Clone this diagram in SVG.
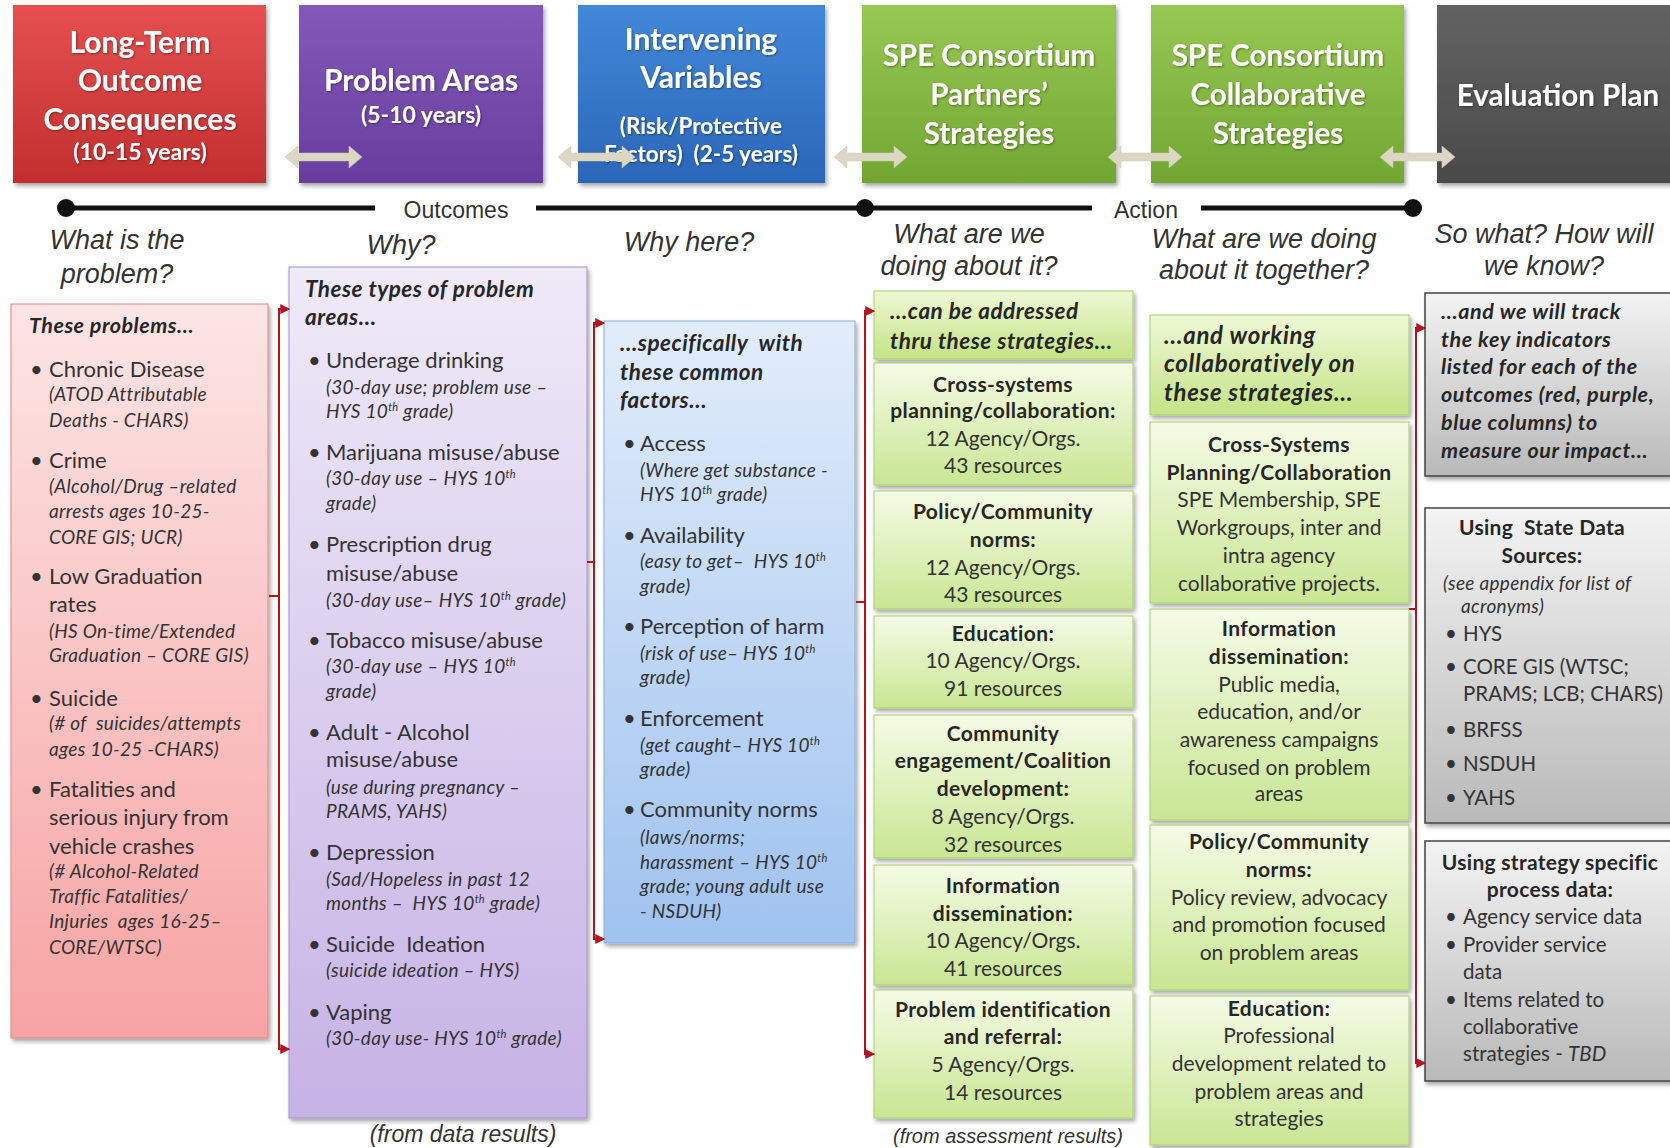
<svg xmlns="http://www.w3.org/2000/svg" width="1670" height="1148" viewBox="0 0 1670 1148">
<defs>
<linearGradient id="gRed" x1="0" y1="0" x2="0" y2="1"><stop offset="0" stop-color="#e6504f"/><stop offset="1" stop-color="#c22e2f"/></linearGradient>
<linearGradient id="gPur" x1="0" y1="0" x2="0" y2="1"><stop offset="0" stop-color="#8259b9"/><stop offset="1" stop-color="#683d9e"/></linearGradient>
<linearGradient id="gBlu" x1="0" y1="0" x2="0" y2="1"><stop offset="0" stop-color="#4288d8"/><stop offset="1" stop-color="#2b66b8"/></linearGradient>
<linearGradient id="gGrn" x1="0" y1="0" x2="0" y2="1"><stop offset="0" stop-color="#97c853"/><stop offset="1" stop-color="#72a632"/></linearGradient>
<linearGradient id="gGry" x1="0" y1="0" x2="0" y2="1"><stop offset="0" stop-color="#626262"/><stop offset="1" stop-color="#4a4a4a"/></linearGradient>
<linearGradient id="gPink" x1="0" y1="0" x2="0" y2="1"><stop offset="0" stop-color="#fde5e5"/><stop offset="1" stop-color="#f7a3a3"/></linearGradient>
<linearGradient id="gLav" x1="0" y1="0" x2="0" y2="1"><stop offset="0" stop-color="#efeaf8"/><stop offset="1" stop-color="#c6b2e5"/></linearGradient>
<linearGradient id="gSky" x1="0" y1="0" x2="0" y2="1"><stop offset="0" stop-color="#e2edfb"/><stop offset="1" stop-color="#9fc2ef"/></linearGradient>
<linearGradient id="gLime" x1="0" y1="0" x2="0" y2="1"><stop offset="0" stop-color="#f5fbe6"/><stop offset="1" stop-color="#c9e694"/></linearGradient>
<linearGradient id="gLimeH" x1="0" y1="0" x2="0" y2="1"><stop offset="0" stop-color="#eef8d6"/><stop offset="1" stop-color="#c4e386"/></linearGradient>
<linearGradient id="gSilv" x1="0" y1="0" x2="0" y2="1"><stop offset="0" stop-color="#f3f3f3"/><stop offset="1" stop-color="#b9b9b9"/></linearGradient>
<filter id="sh" x="-10%" y="-10%" width="130%" height="130%"><feDropShadow dx="2" dy="3" stdDeviation="2" flood-color="#000" flood-opacity="0.35"/></filter>
<filter id="tsh" x="-10%" y="-20%" width="130%" height="150%"><feDropShadow dx="1" dy="1" stdDeviation="1" flood-color="#000" flood-opacity="0.4"/></filter>
<marker id="tip" viewBox="0 0 8 8" refX="7" refY="4" markerWidth="5" markerHeight="5" orient="auto-start-reverse"><path d="M0,0 L8,4 L0,8 z" fill="#b3141e"/></marker>
<style>
.ttl{font-family:Lato,"Open Sans",sans-serif;font-weight:700;fill:#fff;text-anchor:middle}
.q{font-family:"Liberation Sans",Arial,sans-serif;font-style:italic;font-size:27px;fill:#333;text-anchor:middle}
.tl{font-family:"Liberation Sans",Arial,sans-serif;font-size:23px;fill:#333;text-anchor:middle}
.hd{font-family:Lato,sans-serif;font-weight:700;font-style:italic;font-size:22.5px;letter-spacing:0.5px;fill:#262626}
.b{font-family:Lato,sans-serif;font-size:22px;fill:#333}
.s{font-family:Lato,sans-serif;font-style:italic;font-size:19px;letter-spacing:0.3px;fill:#333}
.gb{font-family:Lato,sans-serif;font-weight:700;font-size:21px;letter-spacing:0.4px;fill:#262626;text-anchor:middle}
.gn{font-family:Lato,sans-serif;font-size:21px;fill:#333;text-anchor:middle}
.gr{font-family:Lato,sans-serif;font-size:20.5px;fill:#333}
.gbc{font-family:Lato,sans-serif;font-weight:700;font-size:21px;letter-spacing:0.3px;fill:#262626;text-anchor:middle}
.hdg{font-family:Lato,sans-serif;font-weight:700;font-style:italic;font-size:21.5px;letter-spacing:0.6px;fill:#262626}
.ft{font-family:"Liberation Sans",Arial,sans-serif;font-style:italic;fill:#333;text-anchor:middle}
.brk{fill:none;stroke:#b5121b;stroke-width:2}
.arw{fill:#dcd7c3;stroke:#cfc9b2;stroke-width:0.5}
</style>
</defs>
<rect width="1670" height="1148" fill="#ffffff"/>

<!-- Header boxes -->
<g id="hdr-longterm">
<rect x="13" y="5" width="253" height="178" fill="url(#gRed)" filter="url(#sh)"/>
<g filter="url(#tsh)">
<text class="ttl" x="140" y="53" font-size="30">Long-Term</text>
<text class="ttl" x="140" y="91" font-size="30">Outcome</text>
<text class="ttl" x="140" y="130" font-size="30">Consequences</text>
<text class="ttl" x="140" y="160" font-size="23">(10-15 years)</text>
</g>
</g>
<g id="hdr-problem">
<rect x="299" y="5" width="244" height="178" fill="url(#gPur)" filter="url(#sh)"/>
<g filter="url(#tsh)">
<text class="ttl" x="421" y="91" font-size="30">Problem Areas</text>
<text class="ttl" x="421" y="123" font-size="23">(5-10 years)</text>
</g>
</g>
<g id="hdr-intervening">
<rect x="578" y="5" width="247" height="178" fill="url(#gBlu)" filter="url(#sh)"/>
<g filter="url(#tsh)">
<text class="ttl" x="701" y="50" font-size="30">Intervening</text>
<text class="ttl" x="701" y="88" font-size="30">Variables</text>
<text class="ttl" x="701" y="134" font-size="22.5">(Risk/Protective</text>
<text class="ttl" x="701" y="162" font-size="22.5">Factors)&#160; (2-5 years)</text>
</g>
</g>
<g id="hdr-partners">
<rect x="862" y="5" width="254" height="178" fill="url(#gGrn)" filter="url(#sh)"/>
<g filter="url(#tsh)">
<text class="ttl" x="989" y="66" font-size="29.5">SPE Consortium</text>
<text class="ttl" x="989" y="105" font-size="29.5">Partners’</text>
<text class="ttl" x="989" y="144" font-size="29.5">Strategies</text>
</g>
</g>
<g id="hdr-collab">
<rect x="1151" y="5" width="253" height="178" fill="url(#gGrn)" filter="url(#sh)"/>
<g filter="url(#tsh)">
<text class="ttl" x="1278" y="66" font-size="29.5">SPE Consortium</text>
<text class="ttl" x="1278" y="105" font-size="29.5">Collaborative</text>
<text class="ttl" x="1278" y="144" font-size="29.5">Strategies</text>
</g>
</g>
<g id="hdr-eval">
<rect x="1437" y="5" width="240" height="178" fill="url(#gGry)" filter="url(#sh)"/>
<g filter="url(#tsh)">
<text class="ttl" x="1558" y="106" font-size="29.5">Evaluation Plan</text>
</g>
</g>

<!-- Timeline -->
<g id="timeline">
<path d="M66,208 L375,208 M536,208 L1092,208 M1201,208 L1413,208" stroke="#111" stroke-width="5" fill="none"/>
<circle cx="66" cy="208" r="9" fill="#111"/>
<circle cx="865" cy="208" r="9" fill="#111"/>
<circle cx="1413" cy="208" r="9" fill="#111"/>
<text class="tl" x="456" y="218">Outcomes</text>
<text class="tl" x="1146" y="218">Action</text>
</g>

<!-- Questions -->
<g id="questions">
<text class="q" x="117" y="249">What is the</text>
<text class="q" x="117" y="283">problem?</text>
<text class="q" x="401" y="254">Why?</text>
<text class="q" x="689" y="251">Why here?</text>
<text class="q" x="969" y="243">What are we</text>
<text class="q" x="969" y="275">doing about it?</text>
<text class="q" x="1264" y="248">What are we doing</text>
<text class="q" x="1264" y="279">about it together?</text>
<text class="q" x="1544" y="243">So what? How will</text>
<text class="q" x="1544" y="275">we know?</text>
</g>

<!-- Red column -->
<g id="col-problems">
<rect x="11" y="304" width="257" height="734" fill="url(#gPink)" stroke="#d98a8a" filter="url(#sh)"/>
<text class="hd" x="29" y="333" style="font-size:21.5px">These problems…</text>
<g class="b">
<text x="30" y="377">•</text><text x="49" y="377">Chronic Disease</text>
<text x="30" y="468">•</text><text x="49" y="468">Crime</text>
<text x="30" y="584">•</text><text x="49" y="584">Low Graduation</text>
<text x="49" y="612">rates</text>
<text x="30" y="706">•</text><text x="49" y="706">Suicide</text>
<text x="30" y="797">•</text><text x="49" y="797">Fatalities and</text>
<text x="49" y="825">serious injury from</text>
<text x="49" y="854">vehicle crashes</text>
</g>
<g class="s">
<text x="49" y="401">(ATOD Attributable</text>
<text x="49" y="427">Deaths - CHARS)</text>
<text x="49" y="493">(Alcohol/Drug –related</text>
<text x="49" y="518">arrests ages 10-25-</text>
<text x="49" y="544">CORE GIS; UCR)</text>
<text x="49" y="638">(HS On-time/Extended</text>
<text x="49" y="662">Graduation – CORE GIS)</text>
<text x="49" y="730">(# of&#160; suicides/attempts</text>
<text x="49" y="756">ages 10-25 -CHARS)</text>
<text x="49" y="878">(# Alcohol-Related</text>
<text x="49" y="903">Traffic Fatalities/</text>
<text x="49" y="928">Injuries&#160; ages 16-25–</text>
<text x="49" y="954">CORE/WTSC)</text>
</g>
</g>

<!-- Purple column -->
<g id="col-areas">
<rect x="289" y="267" width="298" height="851" fill="url(#gLav)" stroke="#a690cf" filter="url(#sh)"/>
<text class="hd" x="305" y="297">These types of problem</text>
<text class="hd" x="305" y="325">areas…</text>
<g class="b">
<text x="308" y="368">•</text><text x="326" y="368">Underage drinking</text>
<text x="308" y="460">•</text><text x="326" y="460">Marijuana misuse/abuse</text>
<text x="308" y="552">•</text><text x="326" y="552">Prescription drug</text>
<text x="326" y="581">misuse/abuse</text>
<text x="308" y="648">•</text><text x="326" y="648">Tobacco misuse/abuse</text>
<text x="308" y="740">•</text><text x="326" y="740">Adult - Alcohol</text>
<text x="326" y="767">misuse/abuse</text>
<text x="308" y="860">•</text><text x="326" y="860">Depression</text>
<text x="308" y="952">•</text><text x="326" y="952">Suicide&#160; Ideation</text>
<text x="308" y="1020">•</text><text x="326" y="1020">Vaping</text>
</g>
<g class="s">
<text x="326" y="394">(30-day use; problem use –</text>
<text x="326" y="418">HYS 10<tspan font-size="11" dy="-7">th</tspan><tspan dy="7"> grade)</tspan></text>
<text x="326" y="485">(30-day use – HYS 10<tspan font-size="11" dy="-7">th</tspan></text>
<text x="326" y="510">grade)</text>
<text x="326" y="607">(30-day use– HYS 10<tspan font-size="11" dy="-7">th</tspan><tspan dy="7"> grade)</tspan></text>
<text x="326" y="673">(30-day use – HYS 10<tspan font-size="11" dy="-7">th</tspan></text>
<text x="326" y="698">grade)</text>
<text x="326" y="794">(use during pregnancy –</text>
<text x="326" y="818">PRAMS, YAHS)</text>
<text x="326" y="886">(Sad/Hopeless in past 12</text>
<text x="326" y="910">months –&#160; HYS 10<tspan font-size="11" dy="-7">th</tspan><tspan dy="7"> grade)</tspan></text>
<text x="326" y="977">(suicide ideation – HYS)</text>
<text x="326" y="1045">(30-day use- HYS 10<tspan font-size="11" dy="-7">th</tspan><tspan dy="7"> grade)</tspan></text>
</g>
<text class="ft" x="463" y="1142" font-size="23">(from data results)</text>
</g>

<!-- Blue column -->
<g id="col-factors">
<rect x="604" y="321" width="251" height="622" fill="url(#gSky)" stroke="#8cb0de" filter="url(#sh)"/>
<text class="hd" x="620" y="351">…specifically&#160; with</text>
<text class="hd" x="620" y="380">these common</text>
<text class="hd" x="620" y="408">factors…</text>
<g class="b">
<text x="623" y="451">•</text><text x="640" y="451">Access</text>
<text x="623" y="543">•</text><text x="640" y="543">Availability</text>
<text x="623" y="634">•</text><text x="640" y="634">Perception of harm</text>
<text x="623" y="726">•</text><text x="640" y="726">Enforcement</text>
<text x="623" y="817">•</text><text x="640" y="817">Community norms</text>
</g>
<g class="s">
<text x="640" y="477">(Where get substance -</text>
<text x="640" y="501">HYS 10<tspan font-size="11" dy="-7">th</tspan><tspan dy="7"> grade)</tspan></text>
<text x="640" y="568">(easy to get–&#160; HYS 10<tspan font-size="11" dy="-7">th</tspan></text>
<text x="640" y="593">grade)</text>
<text x="640" y="660">(risk of use– HYS 10<tspan font-size="11" dy="-7">th</tspan></text>
<text x="640" y="684">grade)</text>
<text x="640" y="752">(get caught– HYS 10<tspan font-size="11" dy="-7">th</tspan></text>
<text x="640" y="776">grade)</text>
<text x="640" y="844">(laws/norms;</text>
<text x="640" y="869">harassment – HYS 10<tspan font-size="11" dy="-7">th</tspan></text>
<text x="640" y="893">grade; young adult use</text>
<text x="640" y="918">- NSDUH)</text>
</g>
</g>

<!-- Green column 1 -->
<g id="col-partners">
<g id="p-head">
<rect x="874" y="291" width="259" height="68" fill="url(#gLimeH)" stroke="#a9cf6a" filter="url(#sh)"/>
<text class="hd" x="890" y="319">…can be addressed</text>
<text class="hd" x="890" y="349">thru these strategies…</text>
</g>
<g id="p-cross">
<rect x="874" y="363" width="259" height="122" fill="url(#gLime)" stroke="#a9cf6a" filter="url(#sh)"/>
<text class="gb" x="1003" y="392">Cross-systems</text>
<text class="gb" x="1003" y="418">planning/collaboration:</text>
<text class="gn" x="1003" y="446">12 Agency/Orgs.</text>
<text class="gn" x="1003" y="473">43 resources</text>
</g>
<g id="p-policy">
<rect x="874" y="491" width="259" height="118" fill="url(#gLime)" stroke="#a9cf6a" filter="url(#sh)"/>
<text class="gb" x="1003" y="519">Policy/Community</text>
<text class="gb" x="1003" y="547">norms:</text>
<text class="gn" x="1003" y="575">12 Agency/Orgs.</text>
<text class="gn" x="1003" y="602">43 resources</text>
</g>
<g id="p-edu">
<rect x="874" y="616" width="259" height="92" fill="url(#gLime)" stroke="#a9cf6a" filter="url(#sh)"/>
<text class="gb" x="1003" y="641">Education:</text>
<text class="gn" x="1003" y="668">10 Agency/Orgs.</text>
<text class="gn" x="1003" y="696">91 resources</text>
</g>
<g id="p-comm">
<rect x="874" y="715" width="259" height="143" fill="url(#gLime)" stroke="#a9cf6a" filter="url(#sh)"/>
<text class="gb" x="1003" y="741">Community</text>
<text class="gb" x="1003" y="768">engagement/Coalition</text>
<text class="gb" x="1003" y="796">development:</text>
<text class="gn" x="1003" y="824">8 Agency/Orgs.</text>
<text class="gn" x="1003" y="852">32 resources</text>
</g>
<g id="p-info">
<rect x="874" y="865" width="259" height="120" fill="url(#gLime)" stroke="#a9cf6a" filter="url(#sh)"/>
<text class="gb" x="1003" y="893">Information</text>
<text class="gb" x="1003" y="921">dissemination:</text>
<text class="gn" x="1003" y="948">10 Agency/Orgs.</text>
<text class="gn" x="1003" y="976">41 resources</text>
</g>
<g id="p-pid">
<rect x="874" y="990" width="259" height="128" fill="url(#gLime)" stroke="#a9cf6a" filter="url(#sh)"/>
<text class="gb" x="1003" y="1017">Problem identification</text>
<text class="gb" x="1003" y="1044">and referral:</text>
<text class="gn" x="1003" y="1072">5 Agency/Orgs.</text>
<text class="gn" x="1003" y="1100">14 resources</text>
</g>
<text class="ft" x="1008" y="1143" font-size="20">(from assessment results)</text>
</g>

<!-- Green column 2 -->
<g id="col-collab">
<g id="c-head">
<rect x="1150" y="315" width="259" height="100" fill="url(#gLimeH)" stroke="#a9cf6a" filter="url(#sh)"/>
<text class="hd" x="1164" y="344" style="font-size:24px;letter-spacing:0.7px">…and working</text>
<text class="hd" x="1164" y="372" style="font-size:24px;letter-spacing:0.7px">collaboratively on</text>
<text class="hd" x="1164" y="401" style="font-size:24px;letter-spacing:0.7px">these strategies…</text>
</g>
<g id="c-cross">
<rect x="1150" y="422" width="259" height="181" fill="url(#gLime)" stroke="#a9cf6a" filter="url(#sh)"/>
<text class="gb" x="1279" y="452">Cross-Systems</text>
<text class="gb" x="1279" y="480">Planning/Collaboration</text>
<text class="gn" x="1279" y="507">SPE Membership, SPE</text>
<text class="gn" x="1279" y="535">Workgroups, inter and</text>
<text class="gn" x="1279" y="563">intra agency</text>
<text class="gn" x="1279" y="591">collaborative projects.</text>
</g>
<g id="c-info">
<rect x="1150" y="609" width="259" height="211" fill="url(#gLime)" stroke="#a9cf6a" filter="url(#sh)"/>
<text class="gb" x="1279" y="636">Information</text>
<text class="gb" x="1279" y="664">dissemination:</text>
<text class="gn" x="1279" y="692">Public media,</text>
<text class="gn" x="1279" y="719">education, and/or</text>
<text class="gn" x="1279" y="747">awareness campaigns</text>
<text class="gn" x="1279" y="775">focused on problem</text>
<text class="gn" x="1279" y="801">areas</text>
</g>
<g id="c-policy">
<rect x="1150" y="825" width="259" height="165" fill="url(#gLime)" stroke="#a9cf6a" filter="url(#sh)"/>
<text class="gb" x="1279" y="849">Policy/Community</text>
<text class="gb" x="1279" y="877">norms:</text>
<text class="gn" x="1279" y="905">Policy review, advocacy</text>
<text class="gn" x="1279" y="932">and promotion focused</text>
<text class="gn" x="1279" y="960">on problem areas</text>
</g>
<g id="c-edu">
<rect x="1150" y="996" width="259" height="149" fill="url(#gLime)" stroke="#a9cf6a" filter="url(#sh)"/>
<text class="gb" x="1279" y="1016">Education:</text>
<text class="gn" x="1279" y="1043">Professional</text>
<text class="gn" x="1279" y="1071">development related to</text>
<text class="gn" x="1279" y="1099">problem areas and</text>
<text class="gn" x="1279" y="1126">strategies</text>
</g>
</g>

<!-- Gray column -->
<g id="col-eval">
<g id="e-track">
<rect x="1425" y="293" width="250" height="183" fill="url(#gSilv)" stroke="#444" stroke-width="1.5" filter="url(#sh)"/>
<text class="hdg" x="1441" y="319">…and we will track</text>
<text class="hdg" x="1441" y="347">the key indicators</text>
<text class="hdg" x="1441" y="374">listed for each of the</text>
<text class="hdg" x="1441" y="402">outcomes (red, purple,</text>
<text class="hdg" x="1441" y="430">blue columns) to</text>
<text class="hdg" x="1441" y="458">measure our impact…</text>
</g>
<g id="e-state">
<rect x="1425" y="508" width="250" height="315" fill="url(#gSilv)" stroke="#444" stroke-width="1.5" filter="url(#sh)"/>
<text class="gbc" x="1542" y="535">Using&#160; State Data</text>
<text class="gbc" x="1542" y="563">Sources:</text>
<text class="s" x="1443" y="590">(see appendix for list of</text>
<text class="s" x="1461" y="613">acronyms)</text>
<g class="gr">
<text x="1445" y="641">•</text><text x="1463" y="641">HYS</text>
<text x="1445" y="674">•</text><text x="1463" y="674">CORE GIS (WTSC;</text>
<text x="1463" y="701">PRAMS; LCB; CHARS)</text>
<text x="1445" y="737">•</text><text x="1463" y="737">BRFSS</text>
<text x="1445" y="771">•</text><text x="1463" y="771">NSDUH</text>
<text x="1445" y="805">•</text><text x="1463" y="805">YAHS</text>
</g>
</g>
<g id="e-process">
<rect x="1425" y="841" width="250" height="240" fill="url(#gSilv)" stroke="#444" stroke-width="1.5" filter="url(#sh)"/>
<text class="gbc" x="1550" y="870">Using strategy specific</text>
<text class="gbc" x="1550" y="897">process data:</text>
<g class="gr">
<text x="1445" y="924">•</text><text x="1463" y="924">Agency service data</text>
<text x="1445" y="952">•</text><text x="1463" y="952">Provider service</text>
<text x="1463" y="979">data</text>
<text x="1445" y="1007">•</text><text x="1463" y="1007">Items related to</text>
<text x="1463" y="1034">collaborative</text>
<text x="1463" y="1061">strategies - <tspan font-style="italic">TBD</tspan></text>
</g>
</g>
</g>

<!-- Connectors -->
<g id="connectors">
<g id="arrows">
<polygon class="arw" points="285,157 298,146 298,153 349,153 349,146 362,157 349,168 349,161 298,161 298,168"/>
<polygon class="arw" points="558,157 571,146 571,153 622,153 622,146 635,157 622,168 622,161 571,161 571,168"/>
<polygon class="arw" points="834,157 847,146 847,153 894,153 894,146 907,157 894,168 894,161 847,161 847,168"/>
<polygon class="arw" points="1108,157 1121,146 1121,153 1169,153 1169,146 1182,157 1169,168 1169,161 1121,161 1121,168"/>
<polygon class="arw" points="1380,157 1393,146 1393,153 1442,153 1442,146 1455,157 1442,168 1442,161 1393,161 1393,168"/>
</g>
<g id="brackets">
<path class="brk" d="M289,309 L279,309 L279,1049 L289,1049" marker-start="url(#tip)" marker-end="url(#tip)"/>
<path class="brk" d="M279,596 L269,596"/>
<path class="brk" d="M604,323 L594,323 L594,939 L604,939" marker-start="url(#tip)" marker-end="url(#tip)"/>
<path class="brk" d="M594,562 L587,562"/>
<path class="brk" d="M874,311 L865,311 L865,1054 L874,1054" marker-start="url(#tip)" marker-end="url(#tip)"/>
<path class="brk" d="M865,602 L856,602"/>
<path class="brk" d="M1425,328 L1416,328 L1416,1063 L1425,1063" marker-start="url(#tip)" marker-end="url(#tip)"/>
<path class="brk" d="M1416,609 L1409,609"/>
</g>
</g>
</svg>
